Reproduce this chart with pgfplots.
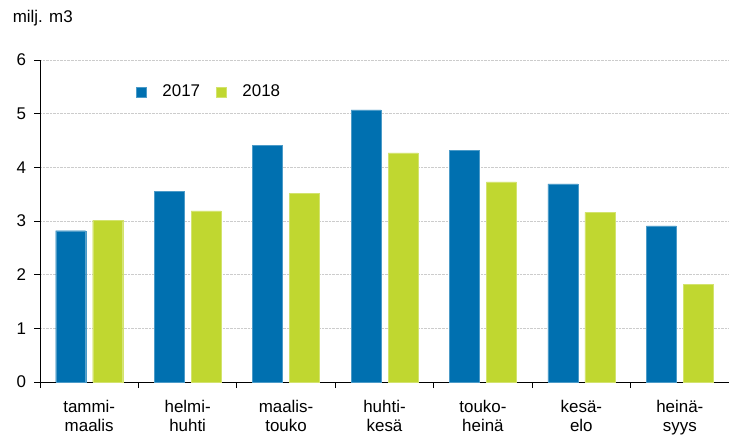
\documentclass[border=0pt]{standalone}
\usepackage{fontspec}
\setmainfont{Liberation Sans}
\usepackage{pgfplots}
\pgfplotsset{compat=1.18}
\definecolor{c17}{RGB}{0,112,176}
\definecolor{c18}{RGB}{192,215,48}
\begin{document}
\fontsize{17}{20}\selectfont
\begin{tikzpicture}[x=1bp,y=1bp]
\useasboundingbox (-40bp,-53bp) rectangle (689bp,382bp);
\begin{axis}[
  at={(0bp,0bp)}, anchor=south west,
  scale only axis,
  width=689bp, height=322bp,
  xmin=-0.5, xmax=6.5, ymin=0, ymax=6,
  axis lines*=left,
  axis line style={black, line width=0.9pt},
  ybar, bar width=30bp,
  ytick={0,...,6},
  yticklabel style={font=\fontsize{17}{20}\selectfont, xshift=-2bp},
  /pgf/number format/assume math mode=true,
  xtick={0,...,6},
  xticklabels={{tammi-\\maalis},{helmi-\\huhti},{maalis-\\touko},{huhti-\\kesä},{touko-\\heinä},{kesä-\\elo},{heinä-\\syys}},
  xticklabel style={align=center, font=\fontsize{17}{19}\selectfont, yshift=-6bp},
  minor xtick={-0.5,0.5,...,6.5},
  major x tick style={draw=none},
  minor x tick style={black, line width=0.8pt},
  major y tick style={black, line width=0.8pt},
  tick align=outside,
  major tick length=6bp, minor tick length=6bp,
  ymajorgrids,
  grid style={gray!40, densely dotted, line width=0.8pt},
  legend style={draw=none, fill=none, at={(0.135,0.90)}, anchor=west, font=\fontsize{17}{20}\selectfont, legend columns=2, column sep=14bp},
  legend image code/.code={\fill[#1] (0bp,-5bp) rectangle (10bp,5bp);},
  clip=false,
]
\addplot[fill=c17, draw=c17!70!white, line width=0.3pt, bar shift=-18.5bp] coordinates {(0,2.82) (1,3.55) (2,4.41) (3,5.07) (4,4.32) (5,3.69) (6,2.91)};
\addplot[fill=c18, draw=c18!70!white, line width=0.3pt, bar shift=18.5bp] coordinates {(0,3.01) (1,3.19) (2,3.52) (3,4.27) (4,3.73) (5,3.16) (6,1.82)};
\legend{2017,2018}
\end{axis}
\node[anchor=west] at (-33bp,364bp) {milj. m3};
\end{tikzpicture}
\end{document}
